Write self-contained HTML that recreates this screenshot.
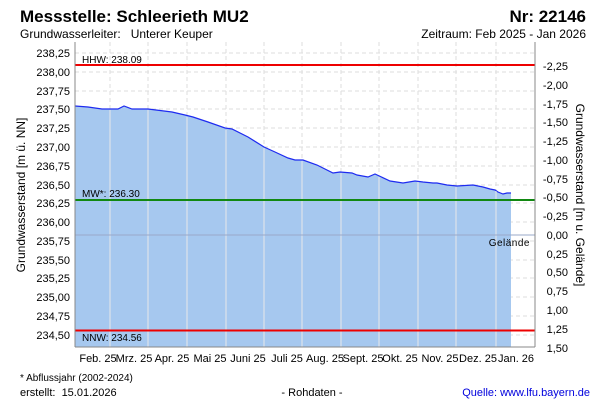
<!DOCTYPE html>
<html><head><meta charset="utf-8"><style>
body{margin:0;background:#fff;}
svg text{font-family:"Liberation Sans",Arial,sans-serif;}
</style></head><body>
<svg width="600" height="400" xmlns="http://www.w3.org/2000/svg">
<rect width="600" height="400" fill="#fff"/>
<text x="20" y="22" font-size="17" font-weight="bold" fill="#000">Messstelle: Schleerieth MU2</text>
<text x="586" y="22" font-size="17" font-weight="bold" text-anchor="end">Nr: 22146</text>
<text x="20" y="38" font-size="12">Grundwasserleiter:&#160;&#160;&#160;Unterer Keuper</text>
<text x="586" y="38" font-size="12" text-anchor="end">Zeitraum: Feb 2025 - Jan 2026</text>
<g stroke="#ddd" stroke-dasharray="4,3" stroke-width="1">
<line x1="75" x2="535" y1="53" y2="53"/><line x1="75" x2="535" y1="72" y2="72"/><line x1="75" x2="535" y1="91" y2="91"/><line x1="75" x2="535" y1="109" y2="109"/><line x1="75" x2="535" y1="128" y2="128"/><line x1="75" x2="535" y1="147" y2="147"/><line x1="75" x2="535" y1="166" y2="166"/><line x1="75" x2="535" y1="185" y2="185"/><line x1="75" x2="535" y1="203" y2="203"/><line x1="75" x2="535" y1="222" y2="222"/><line x1="75" x2="535" y1="241" y2="241"/><line x1="75" x2="535" y1="260" y2="260"/><line x1="75" x2="535" y1="278" y2="278"/><line x1="75" x2="535" y1="297" y2="297"/><line x1="75" x2="535" y1="316" y2="316"/><line x1="75" x2="535" y1="335" y2="335"/>
<line x1="110" x2="110" y1="42" y2="347"/><line x1="148" x2="148" y1="42" y2="347"/><line x1="187" x2="187" y1="42" y2="347"/><line x1="226" x2="226" y1="42" y2="347"/><line x1="264" x2="264" y1="42" y2="347"/><line x1="302" x2="302" y1="42" y2="347"/><line x1="341" x2="341" y1="42" y2="347"/><line x1="379" x2="379" y1="42" y2="347"/><line x1="418" x2="418" y1="42" y2="347"/><line x1="456" x2="456" y1="42" y2="347"/><line x1="496" x2="496" y1="42" y2="347"/>
</g>
<polygon fill="#a6c8ef" points="75,347 75,106 88,107 102,109 118,109 124,106 132,109 148,109 172,112 185,115 193,117 208,122 225,128 232,129 248,137 264,147 275,152 288,158 295,160 303,160 317,165 333,173 340,172 352,173 357,175 368,177 375,174 390,181 403,183 415,181 423,182 433,183 437,183 447,185 457,186 473,185 483,187 490,189 495,190 498,192 503,194 507,193 511,193 511,347"/>
<polyline fill="none" stroke="#1e2bf0" stroke-width="1.2" points="75,106 88,107 102,109 118,109 124,106 132,109 148,109 172,112 185,115 193,117 208,122 225,128 232,129 248,137 264,147 275,152 288,158 295,160 303,160 317,165 333,173 340,172 352,173 357,175 368,177 375,174 390,181 403,183 415,181 423,182 433,183 437,183 447,185 457,186 473,185 483,187 490,189 495,190 498,192 503,194 507,193 511,193"/>
<g stroke="#e8e8e8" stroke-width="1">
<line x1="110" x2="110" y1="110" y2="347"/><line x1="148" x2="148" y1="110" y2="347"/><line x1="187" x2="187" y1="117" y2="347"/><line x1="226" x2="226" y1="130" y2="347"/><line x1="264" x2="264" y1="148" y2="347"/><line x1="302" x2="302" y1="161" y2="347"/><line x1="341" x2="341" y1="173" y2="347"/><line x1="379" x2="379" y1="177" y2="347"/><line x1="418" x2="418" y1="182" y2="347"/><line x1="456" x2="456" y1="187" y2="347"/><line x1="496" x2="496" y1="191" y2="347"/>
</g>
<line x1="75" x2="535" y1="65" y2="65" stroke="#e00" stroke-width="2"/>
<line x1="75" x2="535" y1="200" y2="200" stroke="#118811" stroke-width="2"/>
<line x1="75" x2="535" y1="330.5" y2="330.5" stroke="#e00" stroke-width="2"/>
<line x1="75" x2="535" y1="235" y2="235" stroke="#9aa8c8" stroke-width="1"/>
<text x="82" y="63" font-size="10">HHW: 238.09</text>
<text x="82" y="197" font-size="10">MW*: 236.30</text>
<text x="82" y="341" font-size="10">NNW: 234.56</text>
<text x="530" y="246" font-size="10" text-anchor="end" letter-spacing="0.5">Gelände</text>
<g stroke="#888" stroke-width="1" fill="none">
<line x1="75" x2="75" y1="42" y2="347"/><line x1="535" x2="535" y1="42" y2="347"/><line x1="75" x2="535" y1="347" y2="347"/>
</g>
<g font-size="11" text-anchor="end">
<text x="70" y="57">238,25</text><text x="70" y="76">238,00</text><text x="70" y="95">237,75</text><text x="70" y="113">237,50</text><text x="70" y="132">237,25</text><text x="70" y="151">237,00</text><text x="70" y="170">236,75</text><text x="70" y="189">236,50</text><text x="70" y="207">236,25</text><text x="70" y="226">236,00</text><text x="70" y="245">235,75</text><text x="70" y="264">235,50</text><text x="70" y="282">235,25</text><text x="70" y="301">235,00</text><text x="70" y="320">234,75</text><text x="70" y="339">234,50</text>
</g>
<g font-size="11" text-anchor="end">
<text x="568" y="70">-2,25</text><text x="568" y="89">-2,00</text><text x="568" y="108">-1,75</text><text x="568" y="126">-1,50</text><text x="568" y="145">-1,25</text><text x="568" y="164">-1,00</text><text x="568" y="183">-0,75</text><text x="568" y="201">-0,50</text><text x="568" y="220">-0,25</text><text x="568" y="239">0,00</text><text x="568" y="258">0,25</text><text x="568" y="276">0,50</text><text x="568" y="295">0,75</text><text x="568" y="314">1,00</text><text x="568" y="333">1,25</text><text x="568" y="352">1,50</text>
</g>
<g font-size="11" text-anchor="middle">
<text x="98" y="362">Feb. 25</text><text x="134" y="362">Mrz. 25</text><text x="172" y="362">Apr. 25</text><text x="210" y="362">Mai 25</text><text x="248" y="362">Juni 25</text><text x="287" y="362">Juli 25</text><text x="325" y="362">Aug. 25</text><text x="363" y="362">Sept. 25</text><text x="400" y="362">Okt. 25</text><text x="440" y="362">Nov. 25</text><text x="478" y="362">Dez. 25</text><text x="516" y="362">Jan. 26</text>
</g>
<text transform="translate(25,195) rotate(-90)" font-size="12" text-anchor="middle">Grundwasserstand [m ü. NN]</text>
<text transform="translate(576,195) rotate(90)" font-size="12" text-anchor="middle">Grundwasserstand [m u. Gelände]</text>
<text x="20" y="381" font-size="10">* Abflussjahr (2002-2024)</text>
<text x="20" y="396" font-size="11">erstellt:&#160;&#160;15.01.2026</text>
<text x="312" y="396" font-size="11" text-anchor="middle">- Rohdaten -</text>
<text x="590" y="396" font-size="11" text-anchor="end" fill="#0000dd">Quelle: www.lfu.bayern.de</text>
</svg>
</body></html>
